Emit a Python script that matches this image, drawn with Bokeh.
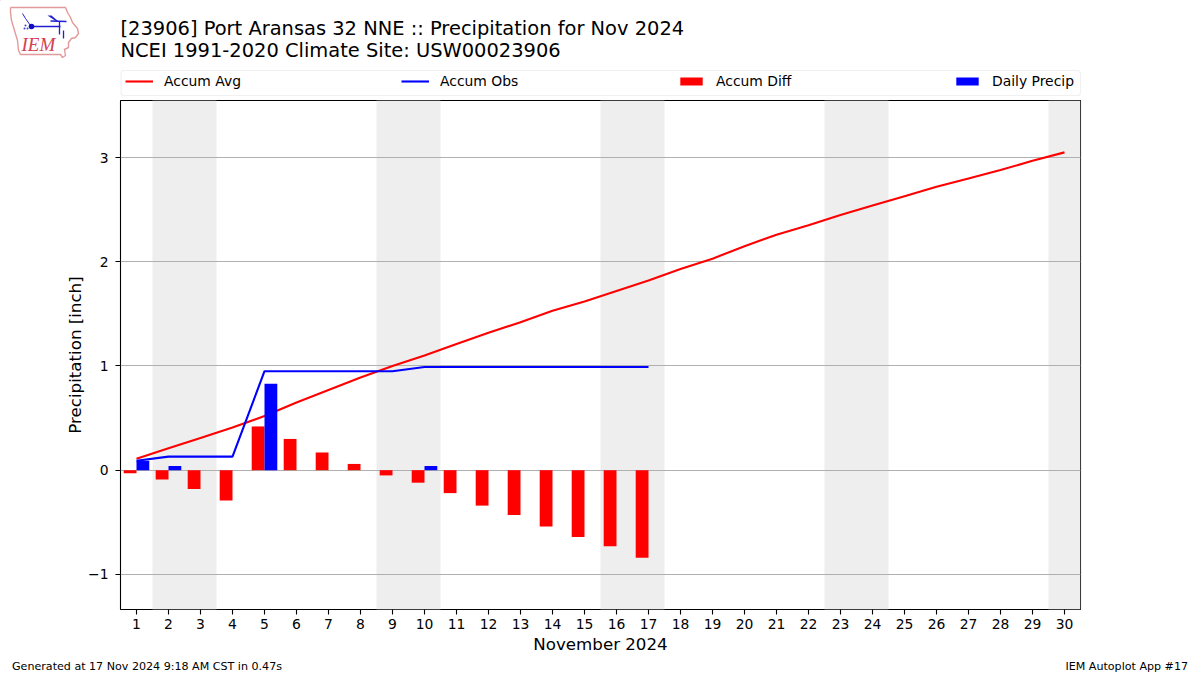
from bokeh.plotting import figure
from bokeh.layouts import column
from bokeh.models import BoxAnnotation, Legend, LegendItem, Range1d, FixedTicker
from bokeh.core.properties import value
from bokeh.embed import file_html
from bokeh.resources import INLINE

days = list(range(1, 31))
accum_avg = [0.11, 0.21, 0.31, 0.41, 0.52, 0.65, 0.77, 0.89, 1.00, 1.10, 1.21, 1.32, 1.42, 1.53, 1.62,
             1.72, 1.82, 1.93, 2.03, 2.15, 2.26, 2.35, 2.45, 2.54, 2.63, 2.72, 2.80, 2.88, 2.97, 3.05]
obs_days = list(range(1, 18))
accum_obs = [0.09, 0.13, 0.13, 0.13, 0.95, 0.95, 0.95, 0.95, 0.95, 0.99, 0.99, 0.99, 0.99, 0.99, 0.99, 0.99, 0.99]
accum_diff = [-0.03, -0.09, -0.18, -0.29, 0.42, 0.30, 0.17, 0.06, -0.05, -0.12, -0.22, -0.34, -0.43, -0.54, -0.64, -0.73, -0.84]
daily_precip = [0.09, 0.04, 0, 0, 0.83, 0, 0, 0, 0, 0.04, 0, 0, 0, 0, 0, 0, 0]
weekend_left = [1.5, 8.5, 15.5, 22.5, 29.5]
weekend_right = [3.5, 10.5, 17.5, 24.5, 30.5]
y_ticks = [-1, 0, 1, 2, 3]

X_MIN, X_MAX = 0.5, 30.5
Y_MIN, Y_MAX = -1.337, 3.548
BAR_W = 0.4
FONT = "DejaVu Sans"
W = 1200
HEAD_H, MAIN_H, FOOT_H = 100, 556, 19
FRAME_L, FRAME_W, FRAME_H = 120, 960, 509


def blank(height, y_top, y_bottom):
    f = figure(width=W, height=height, output_backend="svg", toolbar_location=None,
               x_range=Range1d(0, W), y_range=Range1d(y_bottom, y_top),
               x_axis_type=None, y_axis_type=None, min_border=0, title=None)
    f.outline_line_color = None
    f.frame_align = False
    return f


def put_text(f, x, y, text, size, align="left", color="black", font=FONT, style="normal"):
    f.text(x=[x], y=[y], text=[text], text_font=value(font), text_font_size=value(size),
           text_align=align, text_baseline="alphabetic", text_color=color, text_font_style=style)


# ---- header: logo, titles and legend
head = blank(HEAD_H, 0, HEAD_H)
logo_x = [10, 65, 67, 70, 72, 77, 78, 75, 71, 68, 68, 64, 65, 62, 60, 20, 18, 17, 14, 11, 10, 10]
logo_y = [7, 7, 12, 17, 22, 28, 33, 37, 38, 42, 47, 49, 55, 57, 54, 54, 50, 40, 30, 20, 12, 7]
head.line(logo_x, logo_y, line_color="#e39a9a", line_width=1.4)
head.line([31, 60], [26, 26], line_color="#2020d0", line_width=1.6)
head.line([22, 25, 30], [13, 18, 25], line_color="#2020d0", line_width=1)
head.line([50, 66], [20.5, 21], line_color="#2020d0", line_width=1.3)
head.line([59, 59], [21, 34], line_color="#2020d0", line_width=1.3)
head.line([63, 63], [30, 38], line_color="#2020d0", line_width=1.3)
head.patch([47, 51, 58, 56], [15, 15, 21, 21], fill_color="#2020d0", line_color=None)
head.circle(x=[31], y=[26], radius=2.8, fill_color="#1010c0", line_color=None)
head.scatter(x=[24, 27, 25], y=[28, 28, 25], size=2, fill_color="#4040d0", line_color=None)
put_text(head, 21, 44, "IEM", "19px", color="#d5404f", font="Liberation Serif", style="italic")
put_text(head, 120, 28, "[23906] Port Aransas 32 NNE :: Precipitation for Nov 2024", "19.44px")
put_text(head, 120, 50, "NCEI 1991-2020 Climate Site: USW00023906", "19.44px")

head.add_layout(BoxAnnotation(left=120.5, right=1080, top=70, bottom=95, fill_alpha=0,
                              line_color="#cccccc", line_width=1.1, border_radius=3))
# legend keys: samples that lie off the header's range, only their styles show in the legend
key_avg = head.line([-50, -40], [-50, -50], line_color="red", line_width=2.1)
key_obs = head.line([-50, -40], [-50, -50], line_color="blue", line_width=2.1)
key_diff = head.vbar(x=[-50], top=[-50], bottom=[-40], width=1, fill_color="red", line_color=None)
key_daily = head.vbar(x=[-50], top=[-50], bottom=[-40], width=1, fill_color="blue", line_color=None)
legend = Legend(items=[LegendItem(label="Accum Avg", renderers=[key_avg]),
                       LegendItem(label="Accum Obs", renderers=[key_obs]),
                       LegendItem(label="Accum Diff", renderers=[key_diff]),
                       LegendItem(label="Daily Precip", renderers=[key_daily])],
                orientation="horizontal", location=(125, 11), spacing=0,
                glyph_width=28, glyph_height=10, label_standoff=11, label_height=17, label_width=237,
                label_text_font=FONT, label_text_font_size="13.9px", label_text_color="black",
                padding=4, margin=0, border_line_color=None, background_fill_alpha=0)
head.add_layout(legend, "center")

# ---- main plot
p = figure(width=W, height=MAIN_H, output_backend="svg", toolbar_location=None, title=None,
           x_range=Range1d(X_MIN, X_MAX), y_range=Range1d(Y_MIN, Y_MAX),
           min_border_left=FRAME_L, min_border_right=W - FRAME_L - FRAME_W,
           min_border_top=0, min_border_bottom=MAIN_H - FRAME_H,
           x_axis_label="November 2024", y_axis_label="Precipitation [inch]")
p.frame_align = False
p.background_fill_color = "white"
p.outline_line_color = "black"
p.outline_line_width = 1.1
p.xgrid.visible = False
p.ygrid.ticker = FixedTicker(ticks=y_ticks)
p.ygrid.grid_line_color = "#b0b0b0"
p.ygrid.grid_line_width = 1.1

for ax, ticks in ((p.xaxis[0], days), (p.yaxis[0], y_ticks)):
    ax.ticker = FixedTicker(ticks=ticks)
    ax.minor_tick_line_color = None
    ax.major_tick_in = 0
    ax.major_tick_out = 5
    ax.major_tick_line_width = 1.1
    ax.major_tick_line_color = "black"
    ax.axis_line_color = None
    ax.major_label_text_font = FONT
    ax.major_label_text_font_size = "13.9px"
    ax.major_label_text_color = "black"
    ax.axis_label_text_font = FONT
    ax.axis_label_text_font_size = "16.67px"
    ax.axis_label_text_font_style = "normal"
    ax.axis_label_text_color = "black"
p.xaxis[0].major_label_standoff = 4
p.xaxis[0].axis_label_standoff = 3
p.yaxis[0].major_label_standoff = 7
p.yaxis[0].axis_label_standoff = 0
p.yaxis[0].major_label_overrides = {-1: "\u22121"}

p.quad(left=weekend_left, right=weekend_right, bottom=Y_MIN, top=Y_MAX,
       fill_color="#eeeeee", line_color=None, level="image")

p.line(days, accum_avg, line_color="red", line_width=2.1)
p.line(obs_days, accum_obs, line_color="blue", line_width=2.1)
p.vbar(x=[d - BAR_W / 2 for d in obs_days], top=accum_diff, bottom=0, width=BAR_W,
       fill_color="red", line_color=None)
p.vbar(x=[d + BAR_W / 2 for d in obs_days], top=daily_precip, bottom=0, width=BAR_W,
       fill_color="blue", line_color=None)

# ---- footer
foot = blank(FOOT_H, 656, 675)
put_text(foot, 11.5, 666, "Generated at 17 Nov 2024 9:18 AM CST in 0.47s", "11.1px")
put_text(foot, 1187.5, 666, "IEM Autoplot App #17", "11.1px", align="right")

page = column(head, p, foot, spacing=0)
open("out.html", "w").write(file_html(page, INLINE))
